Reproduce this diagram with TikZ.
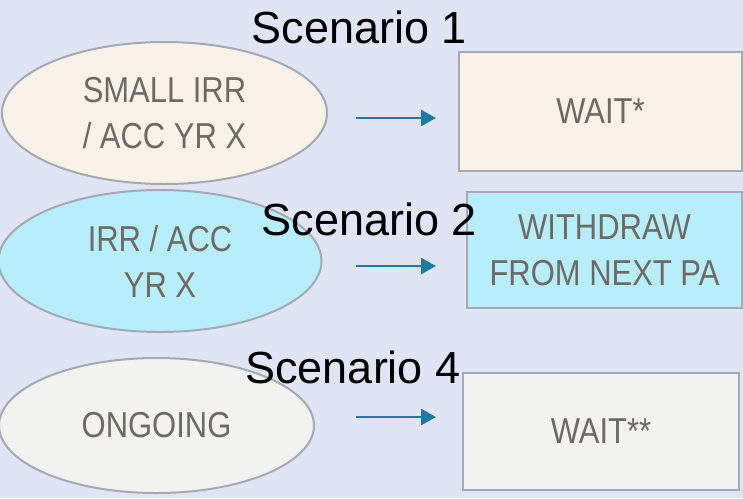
\documentclass[tikz,border=0pt]{standalone}
\usepackage{fontspec}
\setmainfont{Liberation Sans}
\newfontfamily\condensedfont[FakeStretch=0.86]{Liberation Sans}
\usetikzlibrary{shapes.geometric,arrows.meta}

\definecolor{bgBlue}{HTML}{E0E5F6}
\definecolor{beigeFill}{HTML}{F8F2E8}
\definecolor{cyanFill}{HTML}{B6EEFC}
\definecolor{greyFill}{HTML}{F2F2F0}
\definecolor{edgeGrey}{HTML}{A6A8B4}
\definecolor{textGrey}{HTML}{6E6A62}
\definecolor{flowBlue}{HTML}{1A7CA2}

\def \ellipseACenterX{164.5}
\def \ellipseACenterY{113}
\def \ellipseBCenterX{160}
\def \ellipseBCenterY{261}
\def \ellipseCCenterX{156.5}
\def \ellipseCCenterY{425.5}
\def \boxACenterX{600.5}
\def \boxACenterY{111.5}
\def \boxBCenterX{604.5}
\def \boxBCenterY{250}
\def \boxCCenterX{601}
\def \boxCCenterY{431.5}
\def \arrowStartX{356}
\def \arrowEndX{436}

\tikzset{
  state/.style={ellipse, draw=edgeGrey, line width=2pt, inner sep=0pt, text=textGrey,
    align=center, font=\condensedfont\fontsize{36}{46}\selectfont},
  action/.style={rectangle, draw=edgeGrey, line width=2pt, inner sep=0pt, text=textGrey,
    align=center, font=\condensedfont\fontsize{36}{46}\selectfont},
  scenario/.style={anchor=base, text=black, font=\fontsize{45}{50}\selectfont},
  flow/.style={draw=flowBlue, line width=2.5pt, -{Triangle[length=15pt,width=16pt]}}
}

\begin{document}
\begin{tikzpicture}[x=1pt,y=-1pt]
% ---- Background
\fill[bgBlue] (0,0) rectangle (743,498);
\useasboundingbox (0,0) rectangle (743,498);

% ---- Ellipses
\node[state, fill=beigeFill, minimum width=325, minimum height=142] (smallIrr) at (\ellipseACenterX, \ellipseACenterY) {SMALL IRR\\/ ACC YR X};
\node[state, fill=cyanFill, minimum width=323, minimum height=142] (irrAcc) at (\ellipseBCenterX, \ellipseBCenterY) {IRR / ACC\\YR X};
\node[state, fill=greyFill, minimum width=315, minimum height=135] (ongoing) at (\ellipseCCenterX, \ellipseCCenterY) {ONGOING};

% ---- Boxes
\node[action, fill=beigeFill, minimum width=283, minimum height=119] (waitA) at (\boxACenterX, \boxACenterY) {WAIT*};
\node[action, fill=cyanFill, minimum width=275, minimum height=116] (withdraw) at (\boxBCenterX, \boxBCenterY) {WITHDRAW\\FROM NEXT PA};
\node[action, fill=greyFill, minimum width=276, minimum height=117] (waitB) at (\boxCCenterX, \boxCCenterY) {WAIT**};

% ---- Scenario labels
\node[scenario] (scenA) at (359.5, 43) {Scenario 1};
\node[scenario] (scenB) at (369.5, 235) {Scenario 2};
\node[scenario] (scenC) at (353, 383) {Scenario 4};

% Flux
\coordinate (flowAStart) at (\arrowStartX, 118);
\coordinate (flowAEnd) at (\arrowEndX, 118);
\coordinate (flowBStart) at (\arrowStartX, 266);
\coordinate (flowBEnd) at (\arrowEndX, 266);
\coordinate (flowCStart) at (\arrowStartX, 417);
\coordinate (flowCEnd) at (\arrowEndX, 417);
\draw[flow] (flowAStart) -- (flowAEnd);
\draw[flow] (flowBStart) -- (flowBEnd);
\draw[flow] (flowCStart) -- (flowCEnd);
\end{tikzpicture}
\end{document}
